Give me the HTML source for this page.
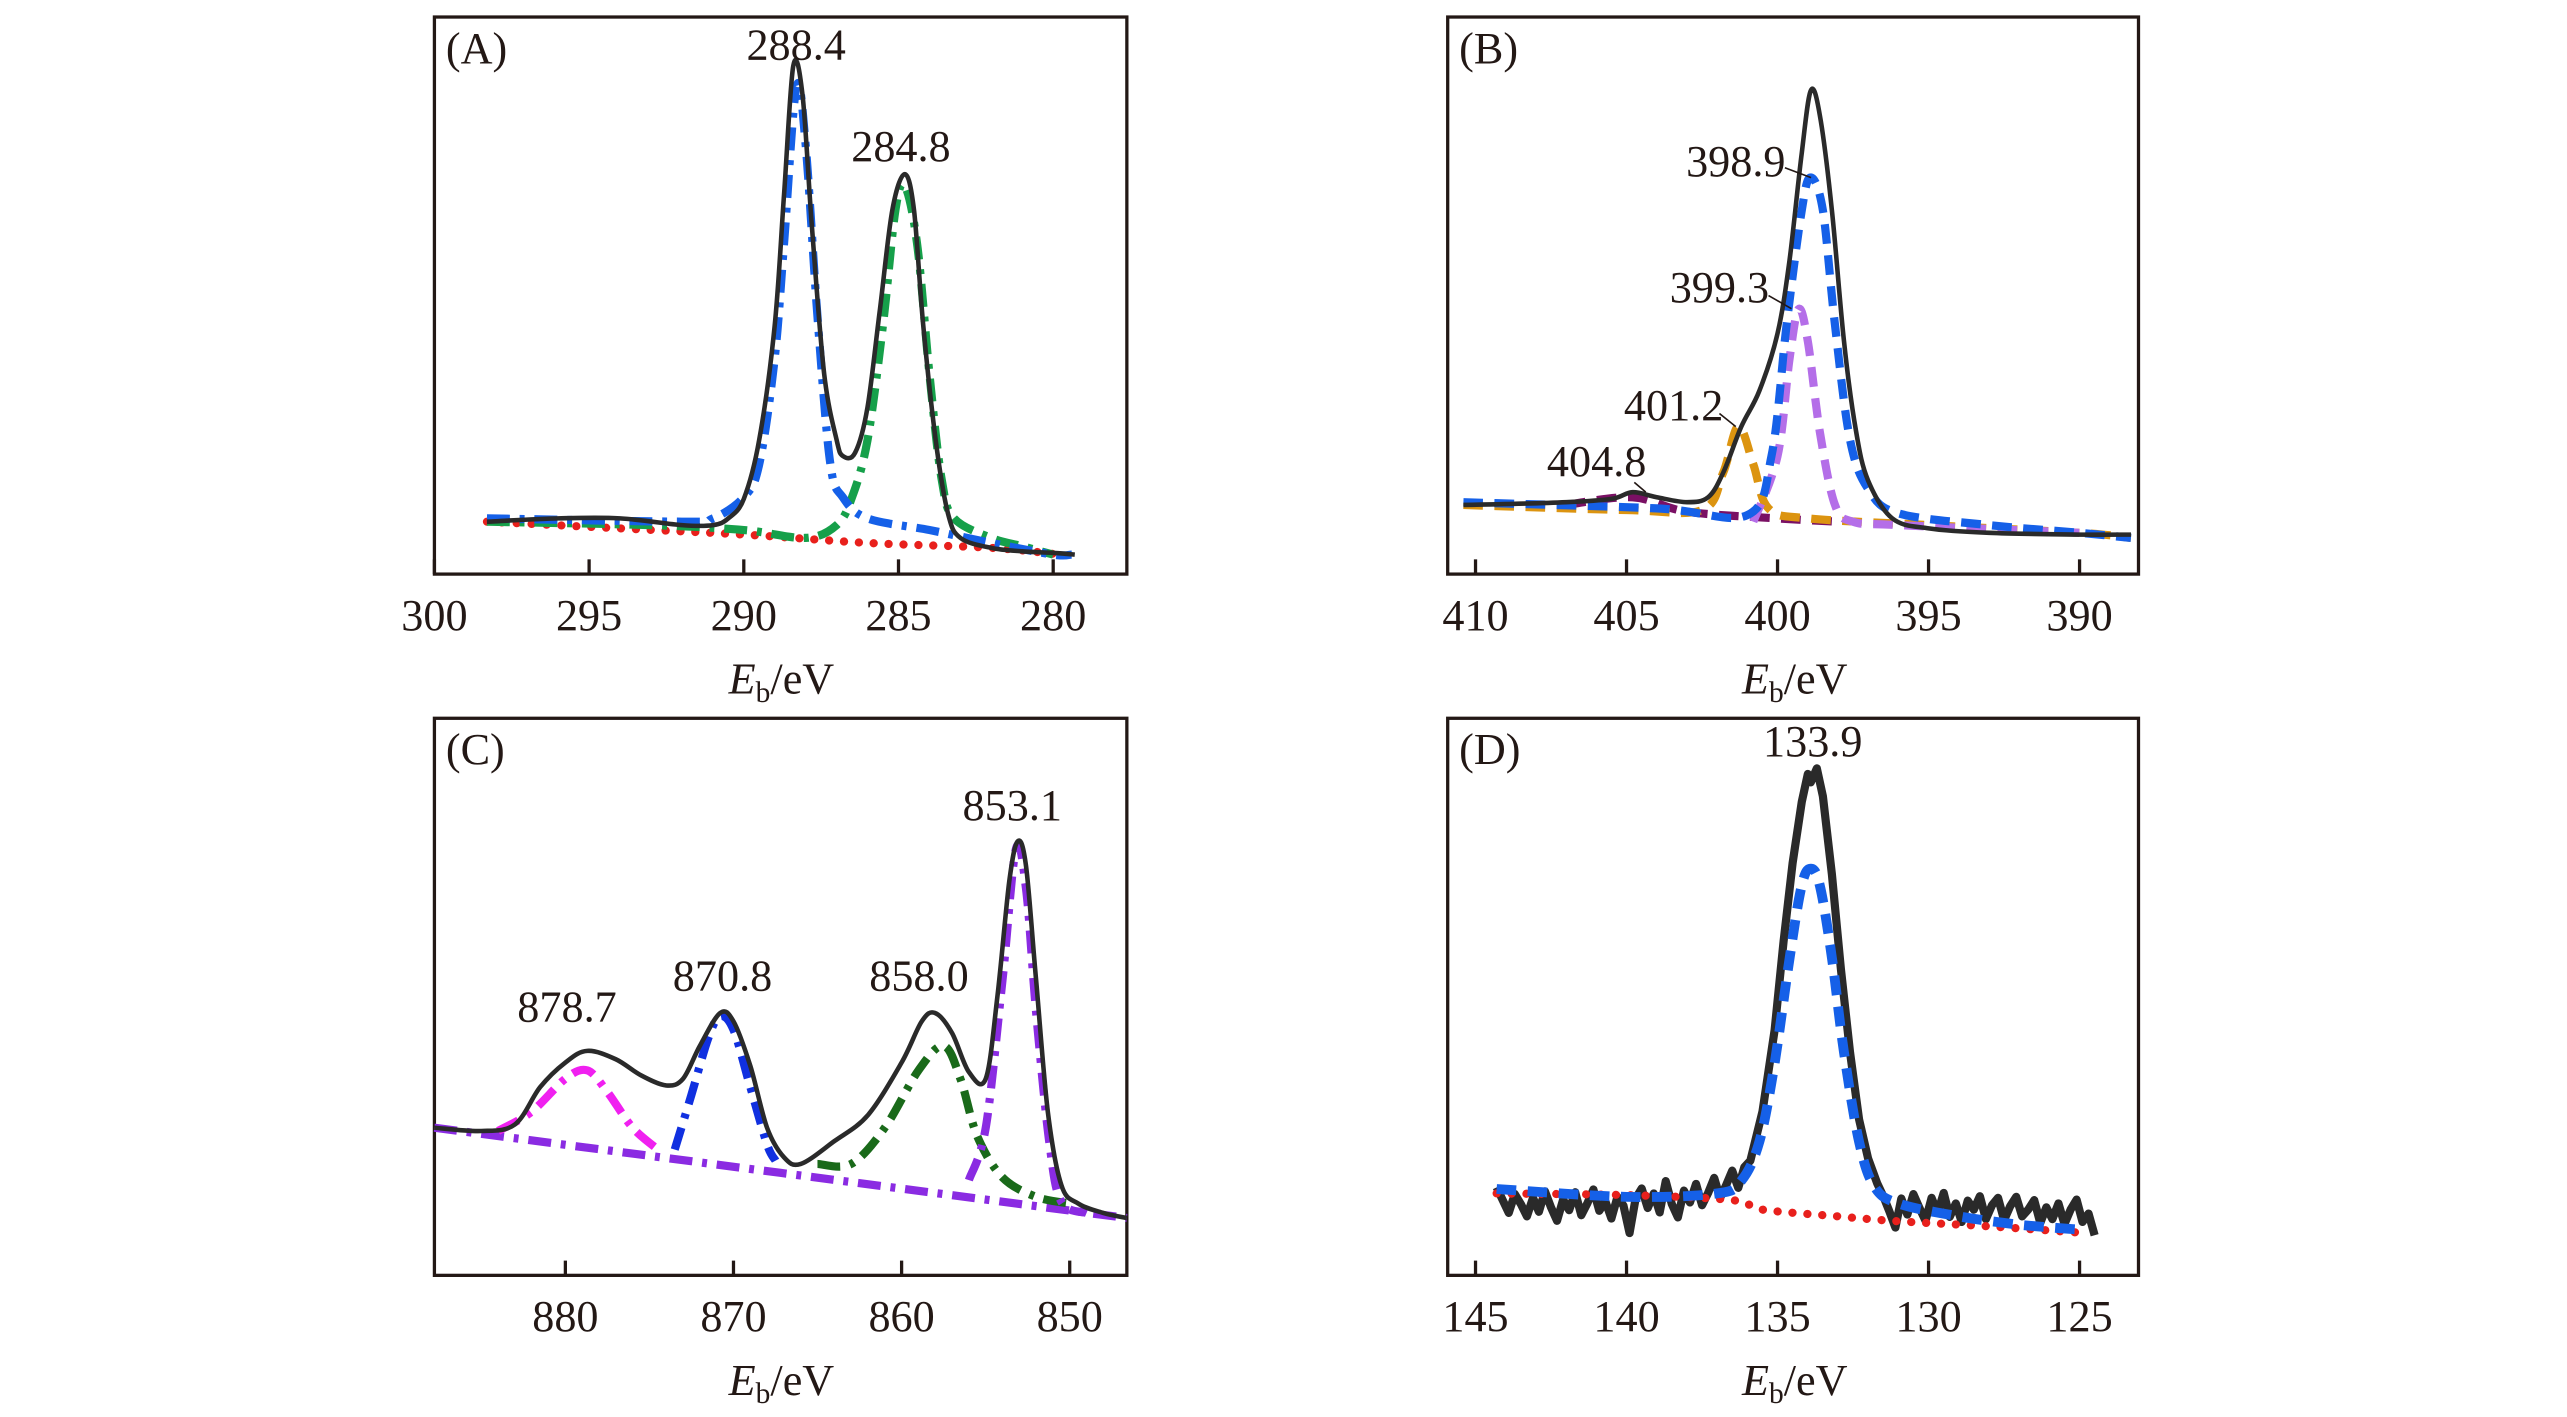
<!DOCTYPE html>
<html><head><meta charset="utf-8"><style>
html,body{margin:0;padding:0;background:#fff;}
svg{display:block;font-family:"Liberation Serif",serif;}
</style></head><body>
<svg width="2567" height="1417" viewBox="0 0 1556 860" xmlns="http://www.w3.org/2000/svg"><g id="fig" transform="translate(-0.6,-1.6) scale(0.9935,0.9944)"></g></svg>
<script>
// ---------- Panel A data ----------
const aTicks=[300,295,290,285,280];
const aBlackE=[298.3,296,294,292,291,290.5,290,289.5,289,288.7,288.4,288.1,287.8,287.4,287,286.8,286.4,286,285.6,285.2,284.8,284.5,284.2,283.8,283.4,283,282,281,280,279.3];
const aBlackV=[9.4,10,10,8.8,8.8,10,13.5,24.1,44.7,68.2,91.2,85.9,62.4,35.9,24.1,21.2,21.8,30,47.6,65.3,71.8,65.3,44.7,24.1,10.9,6.5,4.7,4.1,3.8,3.5];
const aBlueE=[298.3,292,291,290,289.5,289,288.7,288.3,288,287.6,287.2,286.8,286,284,282,280,279.4];
const aBlueV=[10,9.4,10,13.8,19.7,38.8,59.4,87.4,77,44.7,19.7,13.8,10,7.9,5.6,3.5,3.5];
const aGreenE=[298.3,293,290,288,287,286.5,286,285.5,285.1,284.8,284.4,284,283.6,283.2,282,281,280];
const aGreenV=[9.4,8.8,7.9,6.5,8.8,13.8,24.1,44.7,65.3,69.7,59.4,35.9,16.8,10,6.5,5,3.5];
const aRedE=[298.3,294,290,286,282,279.8];
const aRedV=[9.4,8.2,7.1,5.6,4.7,3.5];
// ---------- Panel B data ----------
const bTicks=[410,405,400,395,390];
const bBlackE=[410.4,407,405.5,404.8,404,403,402.3,401.8,401.2,400.6,400,399.6,399.2,398.9,398.6,398.2,397.8,397.4,397,396.2,395,393,390,388.3];
const bBlackV=[12.4,12.9,13.5,14.7,13.8,12.9,13.8,18.2,26.5,32.9,43.2,56.5,75.6,86.8,82.4,65.3,41.8,25.6,16.8,10,8.2,7.4,7.1,7.1];
const bBlueE=[410.4,404,401,400.2,399.7,399.2,398.9,398.5,398.1,397.6,397,396,393,390,388.3];
const bBlueV=[12.9,11.8,10.6,21.2,44.7,65.3,71.2,65.3,44.7,24.1,15.3,10.9,8.8,7.4,6.5];
const bPurpleE=[400.8,400,399.6,399.3,399,398.6,398.1,397.5,396,390];
const bPurpleV=[9.4,21.2,38.8,47.6,41.8,25.6,12.4,9.4,8.8,7.4];
const bOrangeE=[410.4,405,402.5,401.8,401.3,400.8,400.3,399,395,390,388.3];
const bOrangeV=[12.4,11.5,11.5,18.2,26.5,19.7,11.8,10,8.8,7.4,6.5];
const bDarkE=[407,404.8,403,400,398];
const bDarkV=[12.4,13.8,11.2,10,9.4];
// ---------- Panel C data ----------
const cTicks=[880,870,860,850];
const cBlackE=[887.8,885,883,881.5,880,878.7,877,875.5,874,873,872,870.8,870,869,868,867,866,864,862,860,858.8,858,857,856,855,854.3,853.6,853.1,852.6,852,851.3,850.5,849.5,848,846.6];
const cBlackV=[26.5,25.9,27.1,33.8,38.2,40.3,38.8,35.9,34.1,35.3,41.2,47.1,45.6,37.6,26.5,21.2,20,24.1,28.8,38.2,45.6,47.1,43.5,36.5,35.3,50,70.6,77.9,73.5,52.9,29.4,16.2,12.9,11.2,10.3];
const cBaseE=[887.8,846.6];
const cBaseV=[26.5,10.3];
const cMagE=[884,882,880,878.7,877.5,876,874.5];
const cMagV=[25.9,29.4,35.3,36.8,32.9,26.5,22.6];
const cBlueE=[873.5,872.5,871.5,870.8,870,869,868,867.5];
const cBlueV=[22.6,32.4,42.6,46.5,44.1,33.8,23.5,20.6];
const cGreenE=[865,863,861,859,857.5,856.5,855.5,854,852,850];
const cGreenV=[20,20,26.5,36.8,41.2,35.3,25,17.6,14.1,12.9];
const cPurpleE=[856,855,854,853.2,852.6,852,851.2,850.5,849];
const cPurpleV=[17.1,26.5,52.9,76.5,69.4,47.1,23.5,13.2,11.2];
// ---------- Panel D data ----------
const dTicks=[145,140,135,130,125];
const dBlackE=[144.3,144.1,143.9,143.7,143.5,143.3,143.1,142.9,142.7,142.5,142.3,142.1,141.9,141.7,141.5,141.3,141.1,140.9,140.7,140.5,140.3,140.1,139.9,139.7,139.5,139.3,139.1,138.9,138.7,138.5,138.3,138.1,137.9,137.7,137.5,137.3,137.1,136.9,136.7,136.5,136.3,136.1,
 135.9,135.5,135.1,134.8,134.5,134.2,134,133.9,133.7,133.5,133.2,132.9,132.6,132.3,132,131.7,
 131.5,131.3,131.1,130.9,130.7,130.5,130.3,130.1,129.9,129.7,129.5,129.3,129.1,128.9,128.7,128.5,128.3,128.1,127.9,127.7,127.5,127.3,127.1,126.9,126.7,126.5,126.3,126.1,125.9,125.7,125.5,125.3,125.1,124.9,124.7,124.5];
const dBlackV=[15.8,13.5,11.2,14.6,12.8,10.6,13.9,11.4,15.1,12.2,9.8,13.6,11.7,14.9,10.8,12.9,15.4,11.6,13.3,10.2,14.1,12.5,7.6,13.8,15.6,12.1,14.7,11.3,16.9,12.8,10.4,15.2,13.1,16.4,12.6,14.8,17.5,13.9,16.2,18.8,15.7,19.4,
 20.6,29.4,44,60,74,85,90,88.5,91,86,72,55,40,28,21,16.5,
 14.2,11.5,8.6,13.8,10.9,14.6,12.1,9.8,13.9,11.2,14.8,10.5,12.9,9.6,13.4,11.8,14.2,10.1,12.6,13.9,9.9,12.4,14.1,10.6,11.8,13.5,9.4,12.2,10.1,12.9,9.2,11.8,13.6,9.6,11.1,7.2];
const dBlueE=[144.3,140,137,136.2,135.6,135.1,134.6,134.2,133.9,133.6,133.2,132.8,132.3,131.8,131,129,127,125];
const dBlueV=[15.5,14.1,14.7,17,24,38,57,70,73,70,57,40,24,16,12.9,10.6,9.1,8.2];
const dRedE=[144.3,140,136.5,135.5,133,131,128,124.8];
const dRedV=[14.7,14.4,13.5,11.8,10.6,9.7,8.8,7.6];

const NS='http://www.w3.org/2000/svg';
const root=document.getElementById('fig');
function mk(tag,attrs,parent){const e=document.createElementNS(NS,tag);for(const k in attrs)e.setAttribute(k,attrs[k]);(parent||root).appendChild(e);return e;}
function smoothPath(pts){
  let d='M'+pts[0][0].toFixed(1)+','+pts[0][1].toFixed(1);
  for(let i=0;i<pts.length-1;i++){
    const p0=pts[Math.max(0,i-1)],p1=pts[i],p2=pts[i+1],p3=pts[Math.min(pts.length-1,i+2)];
    const c1=[p1[0]+(p2[0]-p0[0])/6,p1[1]+(p2[1]-p0[1])/6];
    const c2=[p2[0]-(p3[0]-p1[0])/6,p2[1]-(p3[1]-p1[1])/6];
    d+=' C'+c1[0].toFixed(1)+','+c1[1].toFixed(1)+' '+c2[0].toFixed(1)+','+c2[1].toFixed(1)+' '+p2[0].toFixed(1)+','+p2[1].toFixed(1);
  }
  return d;
}
function linePath(pts){return 'M'+pts.map(p=>p[0].toFixed(1)+','+p[1].toFixed(1)).join(' L');}

function panel(cfg){
  const g=mk('g',{});
  
  
  const xs=E=>cfg.x0+(cfg.e0-E)*cfg.k;
  const ys=v=>cfg.bottom-v*(cfg.bottom-cfg.top)/100;
  const frame=mk('rect',{x:cfg.left,y:cfg.top,width:cfg.right-cfg.left,height:cfg.bottom-cfg.top,fill:'none',stroke:'#231815','stroke-width':2},g);
  
  
  cfg.ticks.forEach(t=>{
    const x=xs(t);
    const tk=mk('line',{x1:x,x2:x,y1:cfg.bottom,y2:cfg.bottom-9,stroke:'#231815','stroke-width':2},g);
    
    
    const tl=mk('text',{x:x,y:cfg.bottom+34,'font-size':27,'text-anchor':'middle',fill:'#231815'},g);
    tl.textContent=t;
    
    
  });
  const xt=mk('text',{x:cfg.xlabelX,y:cfg.bottom+73,'font-size':27,'text-anchor':'middle',fill:'#231815'},g);
  xt.innerHTML='<tspan font-style="italic">E</tspan><tspan font-size="18" dy="5">b</tspan><tspan dy="-5">/eV</tspan>';
  
  
  const pl=mk('text',{x:cfg.left+7,y:cfg.top+28,'font-size':27,fill:'#231815'},g);
  pl.textContent=cfg.label;
  
  
  cfg.series.forEach(s=>{
    const pts=s.E.map((e,i)=>[xs(e),ys(s.V[i])]);
    const p=mk('path',{d:s.linear?linePath(pts):smoothPath(pts),fill:'none',stroke:s.color,'stroke-width':s.w,'stroke-linecap':s.cap||'butt','stroke-linejoin':'round'},g);
    if(s.dash)p.setAttribute('stroke-dasharray',s.dash);
    
    
  });
  cfg.annots.forEach(a=>{
    const t=mk('text',{x:a[1],y:a[2],'font-size':27,'text-anchor':'middle',fill:'#231815'},g);
    t.textContent=a[0];
    
    
    if(a[3]){
      const l=mk('line',{x1:a[3][0],y1:a[3][1],x2:a[3][2],y2:a[3][3],stroke:'#231815','stroke-width':1},g);
      
      
    }
  });
}
const DD='14 6 3 6', DASH='12 7', DOT='0.1 9';
panel({name:'panel-a',label:'(A)',left:265,right:688,top:12,bottom:352,x0:265,e0:300,k:18.9,ticks:aTicks,xlabelX:477,
 series:[
  {name:'red-background-a',E:aRedE,V:aRedV,color:'#e8201c',w:5,dash:DOT,cap:'round'},
  {name:'green-fit-284',E:aGreenE,V:aGreenV,color:'#16a04a',w:5,dash:DD},
  {name:'blue-fit-288',E:aBlueE,V:aBlueV,color:'#1560e8',w:5,dash:DD},
  {name:'black-spectrum-a',E:aBlackE,V:aBlackV,color:'#2a2a2a',w:2.8}],
 annots:[['288.4',486,38],['284.8',550,100]]});
panel({name:'panel-b',label:'(B)',left:884,right:1306,top:12,bottom:352,x0:901,e0:410,k:18.45,ticks:bTicks,xlabelX:1096,
 series:[
  {name:'darkpurple-fit-404',E:bDarkE,V:bDarkV,color:'#7a1064',w:5,dash:DASH},
  {name:'orange-fit-401',E:bOrangeE,V:bOrangeV,color:'#dc9410',w:5,dash:DASH},
  {name:'purple-fit-399',E:bPurpleE,V:bPurpleV,color:'#b46ee8',w:5,dash:DASH},
  {name:'blue-fit-398',E:bBlueE,V:bBlueV,color:'#1560e8',w:5,dash:DASH},
  {name:'black-spectrum-b',E:bBlackE,V:bBlackV,color:'#2a2a2a',w:2.8}],
 annots:[['398.9',1060,109,[1090,104,1106,110]],['399.3',1050,186,[1080,182,1094,190]],['401.2',1022,258,[1050,254,1060,262]],['404.8',975,292,[998,296,1005,302]]]});
panel({name:'panel-c',label:'(C)',left:265,right:688,top:440,bottom:780,x0:345,e0:880,k:10.27,ticks:cTicks,xlabelX:477,
 series:[
  {name:'baseline-c',E:cBaseE,V:cBaseV,color:'#8a2be2',w:5,dash:DD},
  {name:'magenta-fit-878',E:cMagE,V:cMagV,color:'#f020f0',w:5,dash:DD},
  {name:'blue-fit-870',E:cBlueE,V:cBlueV,color:'#1030e0',w:5,dash:DD},
  {name:'green-fit-858',E:cGreenE,V:cGreenV,color:'#1a6a1a',w:5,dash:DD},
  {name:'purple-fit-853',E:cPurpleE,V:cPurpleV,color:'#8a2be2',w:5,dash:DD},
  {name:'black-spectrum-c',E:cBlackE,V:cBlackV,color:'#2a2a2a',w:2.8}],
 annots:[['878.7',346,625],['870.8',441,606],['858.0',561,606],['853.1',618,502]]});
panel({name:'panel-d',label:'(D)',left:884,right:1306,top:440,bottom:780,x0:901,e0:145,k:18.45,ticks:dTicks,xlabelX:1096,
 series:[
  {name:'black-spectrum-d',E:dBlackE,V:dBlackV,color:'#2a2a2a',w:5,linear:true},
  {name:'red-background-d',E:dRedE,V:dRedV,color:'#e8201c',w:5,dash:DOT,cap:'round'},
  {name:'blue-fit-133',E:dBlueE,V:dBlueV,color:'#1560e8',w:6,dash:DASH}],
 annots:[['133.9',1107,463]]});
</script>
</body></html>
